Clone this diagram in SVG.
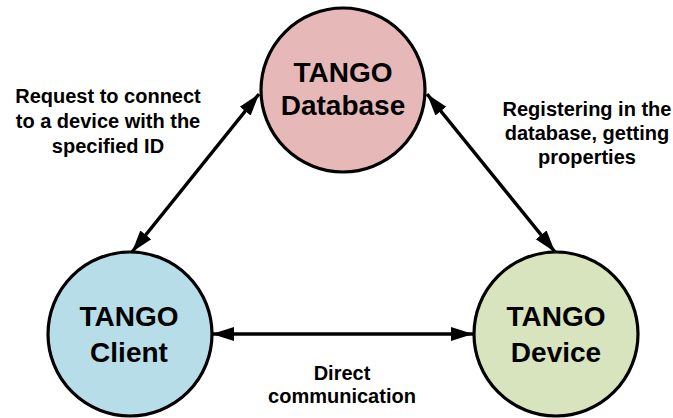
<svg xmlns="http://www.w3.org/2000/svg" width="673" height="418" viewBox="0 0 673 418">
<style>
.node{stroke:#000;stroke-width:3.2}
.title{font-family:"Liberation Sans",Arial,sans-serif;font-weight:bold;font-size:28px;text-anchor:middle;fill:#000}
.lbl{font-family:"Liberation Sans",Arial,sans-serif;font-weight:bold;font-size:20px;text-anchor:middle;fill:#000}
.conn{stroke:#000;stroke-width:3.5;fill:none;marker-start:url(#ah);marker-end:url(#ah)}
</style>
<defs>
<marker id="ah" markerUnits="userSpaceOnUse" markerWidth="24" markerHeight="16" refX="22" refY="7" orient="auto-start-reverse" viewBox="0 0 24 14">
<path d="M0,0 L22,7 L0,14 z" fill="#000"/>
</marker>
</defs>
<rect width="673" height="418" fill="#fff"/>
<g id="connectors">
<line class="conn" x1="132" y1="252" x2="259" y2="94"/>
<line class="conn" x1="427" y1="94" x2="555" y2="252"/>
<line class="conn" x1="212" y1="334" x2="473" y2="334"/>
</g>
<g id="database">
<circle class="node" cx="343" cy="90" r="82" fill="#E6B9B8"/>
<text class="title" x="343" y="82">TANGO</text>
<text class="title" x="343" y="115">Database</text>
</g>
<g id="client">
<circle class="node" cx="130" cy="334" r="82" fill="#B7DDE8"/>
<text class="title" x="129" y="326">TANGO</text>
<text class="title" x="129" y="362">Client</text>
</g>
<g id="device">
<circle class="node" cx="556" cy="334" r="82" fill="#D7E4BD"/>
<text class="title" x="556" y="326">TANGO</text>
<text class="title" x="556" y="362">Device</text>
</g>
<g id="label-request">
<text class="lbl" x="108" y="103">Request to connect</text>
<text class="lbl" x="108" y="128">to a device with the</text>
<text class="lbl" x="108" y="153">specified ID</text>
</g>
<g id="label-register">
<text class="lbl" x="587" y="116">Registering in the</text>
<text class="lbl" x="587" y="140">database, getting</text>
<text class="lbl" x="587" y="164">properties</text>
</g>
<g id="label-direct">
<text class="lbl" x="342" y="380">Direct</text>
<text class="lbl" x="342" y="403">communication</text>
</g>
</svg>
